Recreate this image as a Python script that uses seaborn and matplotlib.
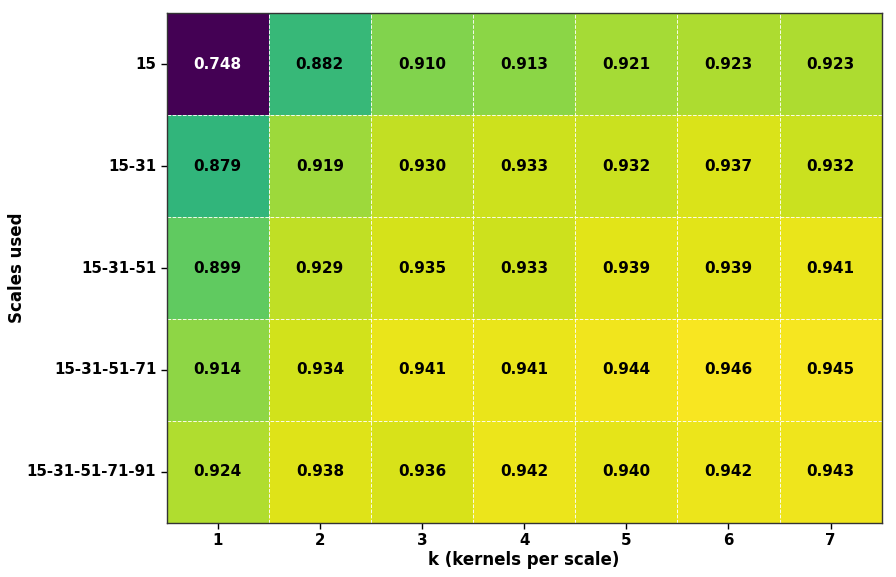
import numpy as np
import pandas as pd
import matplotlib
matplotlib.use("Agg")
import matplotlib.pyplot as plt
import seaborn as sns

scales = ['15', '15-31', '15-31-51', '15-31-51-71', '15-31-51-71-91']
k_values = [1, 2, 3, 4, 5, 6, 7]

row_15 = [0.748, 0.882, 0.910, 0.913, 0.921, 0.923, 0.923]
row_15_31 = [0.879, 0.919, 0.930, 0.933, 0.932, 0.937, 0.932]
row_15_31_51 = [0.899, 0.929, 0.935, 0.933, 0.939, 0.939, 0.941]
row_15_31_51_71 = [0.914, 0.934, 0.941, 0.941, 0.944, 0.946, 0.945]
row_15_31_51_71_91 = [0.924, 0.938, 0.936, 0.942, 0.940, 0.942, 0.943]

df = pd.DataFrame(
    [row_15, row_15_31, row_15_31_51, row_15_31_51_71, row_15_31_51_71_91],
    index=scales, columns=k_values,
)

fig, ax = plt.subplots(figsize=(8.96, 5.77), dpi=100)
sns.heatmap(
    df, ax=ax, cmap='viridis', vmin=0.748, vmax=0.948,
    annot=False, cbar=False,
)

# annotations: white on the darkest cell, black elsewhere
for i, row in enumerate(df.values):
    for j, v in enumerate(row):
        ax.text(j + 0.5, i + 0.5, f'{v:.3f}', ha='center', va='center',
                fontsize=11, fontweight='bold',
                color='white' if v < 0.8 else 'black')

# dashed white grid between cells
ax.set_xticks(np.arange(1, len(k_values)), minor=True)
ax.set_yticks(np.arange(1, len(scales)), minor=True)
ax.grid(which='minor', color='white', linestyle='--', linewidth=0.7, alpha=0.9)
ax.tick_params(which='minor', length=0)
ax.tick_params(which='major', length=4, width=1, labelsize=10.8)

for spine in ax.spines.values():
    spine.set_visible(True)
    spine.set_color('#333333')
    spine.set_linewidth(1.0)

ax.set_xticklabels(k_values, fontweight='bold', rotation=0)
ax.set_yticklabels(scales, fontweight='bold', rotation=0)
ax.set_xlabel('k (kernels per scale)', fontsize=12, fontweight='bold', labelpad=2)
ax.set_ylabel('Scales used', fontsize=12, fontweight='bold')
ax.yaxis.set_label_coords(-0.197, 0.5)

fig.subplots_adjust(left=0.186, right=0.984, top=0.977, bottom=0.094)
fig.savefig('out.png', dpi=100)
